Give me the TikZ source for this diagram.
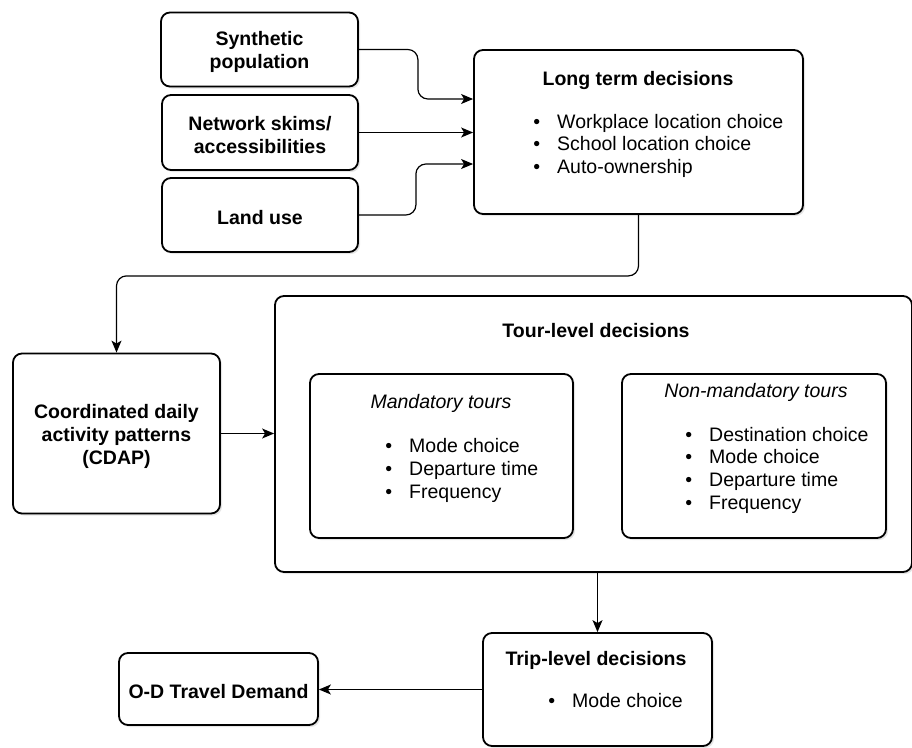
\documentclass[tikz,border=0pt]{standalone}
\usepackage{fontspec}
\setmainfont{Liberation Sans}
\usetikzlibrary{arrows.meta,shadows}
\newcommand{\fs}{\fontsize{19.5}{23}\selectfont}
\tikzset{
  box/.style={draw, line width=1.8pt, rounded corners=9pt, fill=white,
    drop shadow={opacity=0.2, shadow xshift=2pt, shadow yshift=-2pt},
    inner sep=0pt, align=center, font=\fs\bfseries,
    execute at begin node={\rule{0pt}{19.5pt}}},
  conn/.style={-{Stealth[length=12pt,width=10pt,inset=3pt]}, line width=1.2pt, rounded corners=10pt},
  ttl/.style={anchor=base, inner sep=0pt, font=\fs\bfseries},
  sub/.style={anchor=base, inner sep=0pt, font=\fs\itshape},
  itm/.style={anchor=base west, inner sep=0pt, font=\fs},
}
\newcommand{\bul}{\llap{\textbullet\hspace{17pt}}}
\newcommand{\lift}{\rule{0pt}{20pt}}
\begin{document}
\begin{tikzpicture}[x=1pt,y=-1pt]
\useasboundingbox (0,0) rectangle (912,747);
%inputs
\node [box, minimum width=197pt, minimum height=74pt] (syn) at (259.5,49.5) {\lift Synthetic\\population};
\node [box, minimum width=196pt, minimum height=75pt] (net) at (260,132.5) {\lift Network skims/\\accessibilities};
\node [box, minimum width=196pt, minimum height=74pt] (land) at (260,215) {Land use};
%long term
\node [box, minimum width=329pt, minimum height=164pt] (long) at (638.5,132) {};
\node [ttl] (longt) at (638,85) {Long term decisions};
\foreach \t [count=\k] in {Workplace location choice, School location choice, Auto-ownership}
  \node [itm] (lt\k) at (557,105.3+22.7*\k) {\bul\t};
%cdap
\node [box, minimum width=207pt, minimum height=160pt] (cdap) at (116.5,433.5) {\lift Coordinated daily\\activity patterns\\(CDAP)};
%tours
\node [box, minimum width=637pt, minimum height=276pt] (tour) at (593.5,434) {};
\node [ttl] (tourt) at (596,337) {Tour-level decisions};
\node [box, minimum width=263pt, minimum height=164pt] (mand) at (441.5,456) {};
\node [sub] (mandt) at (441,408) {Mandatory tours};
\foreach \t [count=\k] in {Mode choice, Departure time, Frequency}
  \node [itm] (md\k) at (409,429+23*\k) {\bul\t};
\node [box, minimum width=264pt, minimum height=164pt] (nonm) at (754,456) {};
\node [sub] (nonmt) at (756,397) {Non-mandatory tours};
\foreach \t [count=\k] in {Destination choice, Mode choice, Departure time, Frequency}
  \node [itm] (nm\k) at (709,418.3+22.7*\k) {\bul\t};
%trips
\node [box, minimum width=229pt, minimum height=113pt] (trip) at (597.5,689.5) {};
\node [ttl] (tript) at (596,665) {Trip-level decisions};
\node [itm] (tp1) at (572,707) {\bul Mode choice};
\node [box, minimum width=199pt, minimum height=72pt] (od) at (218.5,689) {O-D Travel Demand};

\draw [conn] (syn.east) -- ++(59,0) |- ([yshift=33pt]long.west);
\draw [conn] (net.east) -- (net.east -| long.west);
\draw [conn] (land.east) -- ++(57,0) |- ([yshift=-32pt]long.west);
\draw [conn] (long.south) -- ++(0,61) -| (cdap.north);
\draw [conn] (cdap.east) -- (cdap.east -| tour.west);
\draw [conn] (tour.south -| trip.north) -- (trip.north);
\draw [conn] (trip.west) -- (trip.west -| od.east);
\end{tikzpicture}
\end{document}
